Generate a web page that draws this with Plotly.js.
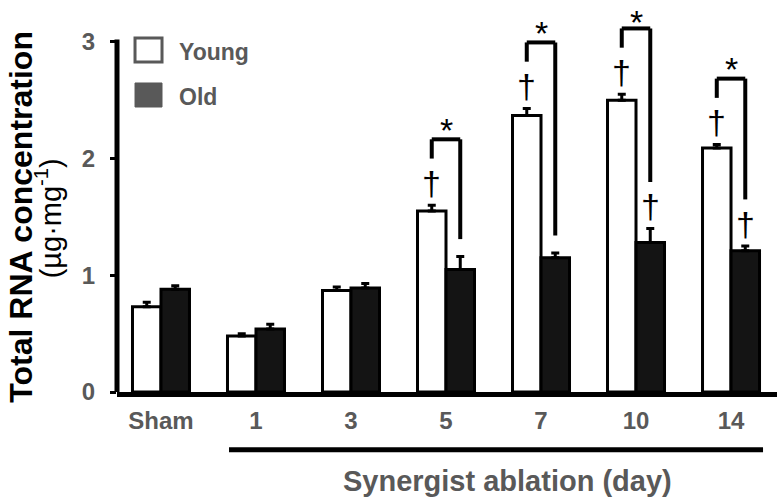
<!DOCTYPE html>
<html>
<head>
<meta charset="utf-8">
<script src="https://cdn.plot.ly/plotly-3.0.1.min.js"></script>
<style>html,body{margin:0;padding:0;background:#fff;}#chart{width:777px;height:498px;}</style>
</head>
<body>
<div id="chart"></div>
<script>
// ---- data ----
var categories = ['Sham', '1', '3', '5', '7', '10', '14'];
var youngMean = [0.73, 0.48, 0.87, 1.55, 2.37, 2.50, 2.09];
var youngSE   = [0.04, 0.02, 0.03, 0.05, 0.06, 0.05, 0.03];
var oldMean   = [0.88, 0.54, 0.89, 1.05, 1.15, 1.28, 1.21];
var oldSE     = [0.03, 0.04, 0.04, 0.11, 0.04, 0.12, 0.04];
// significance markers: † vs sham, * young vs old
var youngDagger = [0, 0, 0, 1, 1, 1, 1];
var oldDagger   = [0, 0, 0, 0, 0, 1, 1];
var starYO      = [0, 0, 0, 1, 1, 1, 1];
var yTicks = [0, 1, 2, 3];
var seriesNames = ['Young', 'Old'];

(function () {
var gray = '#595959';
var FONT = '"Liberation Sans", Arial, sans-serif';
var yRange = [0, 3.35];
var plotH = 498 - 1 - 106;
var pxPerUnit = plotH / (yRange[1] - yRange[0]);

var zeros = youngMean.map(function(){return 0;});
var traces = [
  {type:'bar', name:seriesNames[0], x:categories, y:youngMean,
   marker:{color:'#ffffff', line:{color:'#000', width:3}},
   error_y:{type:'data', array:youngSE, arrayminus:zeros, symmetric:false, color:'#000', thickness:3, width:4},
   showlegend:false, hoverinfo:'y'},
  {type:'bar', name:seriesNames[1], x:categories, y:oldMean,
   marker:{color:'#141414', line:{color:'#000', width:3}},
   error_y:{type:'data', array:oldSE, arrayminus:zeros, symmetric:false, color:'#000', thickness:3, width:4},
   showlegend:false, hoverinfo:'y'}
];

var shapes = [];
var annotations = [];
var off = 0.15; // bar centre offset within a group
var starSize = 34, starShift = -0.23 * starSize;
var starMax = yRange[1] - ((1.117 * starSize + 2) / 2 + starShift) / pxPerUnit - 0.01;

// y axis line 0..3
shapes.push({type:'line', xref:'paper', yref:'y', x0:0, x1:0, y0:0, y1:yTicks[yTicks.length-1]+0.02, line:{color:'#000', width:5}});
// underline for ablation days
shapes.push({type:'line', xref:'x', yref:'paper', x0:0.716, x1:6.337, y0:-0.148, y1:-0.148, line:{color:'#000', width:5}});

function seg(xa, ya, xb, yb) {
  shapes.push({type:'line', xref:'x', yref:'y', x0:xa, y0:ya, x1:xb, y1:yb, line:{color:'#000', width:4}});
}

for (var i = 0; i < categories.length; i++) {
  var yTop = youngMean[i] + youngSE[i];
  var oTop = oldMean[i] + oldSE[i];
  if (youngDagger[i]) {
    annotations.push({xref:'x', yref:'y', x:i - off, y:yTop + 0.19, text:'†', showarrow:false,
      font:{family:FONT, size:34, color:'#000'}, xanchor:'center', yanchor:'middle'});
  }
  if (oldDagger[i]) {
    annotations.push({xref:'x', yref:'y', x:i + off, y:oTop + 0.19, text:'†', showarrow:false,
      font:{family:FONT, size:34, color:'#000'}, xanchor:'center', yanchor:'middle'});
  }
  if (starYO[i]) {
    var lb = yTop + (youngDagger[i] ? 0.40 : 0.15);
    var rb = oTop + (oldDagger[i] ? 0.40 : 0.15);
    var hy = Math.max(lb, rb) + 0.165;
    seg(i - off, lb, i - off, hy);
    seg(i - off, hy, i + off, hy);
    seg(i + off, hy, i + off, rb);
    annotations.push({xref:'x', yref:'y', x:i, y:Math.min(hy + 0.15, starMax), yshift:starShift, text:'*', showarrow:false,
      font:{family:FONT, size:starSize, color:'#000'}, xanchor:'center', yanchor:'middle'});
  }
}

// custom legend
shapes.push({type:'rect', xref:'paper', yref:'paper', x0:0.0273, x1:0.0682, y0:0.844, y1:0.9054, fillcolor:'#fff', line:{color:gray, width:3}});
shapes.push({type:'rect', xref:'paper', yref:'paper', x0:0.0273, x1:0.0682, y0:0.7289, y1:0.7903, fillcolor:gray, line:{color:gray, width:1}});
annotations.push({xref:'paper', yref:'paper', x:0.0909, y:0.8696, text:seriesNames[0], showarrow:false, xanchor:'left', yanchor:'middle',
  font:{family:FONT, size:23, color:gray, weight:700}});
annotations.push({xref:'paper', yref:'paper', x:0.0909, y:0.7545, text:seriesNames[1], showarrow:false, xanchor:'left', yanchor:'middle',
  font:{family:FONT, size:23, color:gray, weight:700}});

// axis titles
annotations.push({xref:'paper', yref:'paper', x:-0.146, y:0.4476, text:'Total RNA concentration', textangle:-90, showarrow:false,
  xanchor:'center', yanchor:'middle', font:{family:FONT, size:32, color:'#000', weight:700}});
annotations.push({xref:'paper', yref:'paper', x:-0.104, y:0.445, text:'(µg·mg<sup>-1</sup>)', textangle:-90, showarrow:false,
  xanchor:'center', yanchor:'middle', font:{family:FONT, size:29, color:'#000'}});
annotations.push({xref:'paper', yref:'paper', x:0.591, y:-0.228, text:'Synergist ablation (day)', showarrow:false,
  xanchor:'center', yanchor:'middle', font:{family:FONT, size:29, color:gray, weight:700}});

var layout = {
  width:777, height:498,
  margin:{l:117, r:0, t:1, b:106, pad:0},
  paper_bgcolor:'#fff', plot_bgcolor:'#fff',
  barmode:'group', bargap:0.4, bargroupgap:0,
  showlegend:false,
  xaxis:{type:'category', range:[-0.463, 6.484], showline:true, linecolor:'#000', linewidth:5,
    ticks:'', showgrid:false, zeroline:false, ticklabelstandoff:3,
    tickfont:{family:FONT, size:24, color:gray, weight:700}},
  yaxis:{range:yRange, tickvals:yTicks, ticktext:yTicks.map(String), showline:false, showgrid:false, zeroline:false,
    ticks:'outside', ticklen:6, tickwidth:3, tickcolor:'#000', ticklabelstandoff:10,
    tickfont:{family:FONT, size:24, color:gray, weight:700}},
  shapes:shapes,
  annotations:annotations
};

Plotly.newPlot('chart', traces, layout, {staticPlot:true, displayModeBar:false});
})();
</script>
</body>
</html>
